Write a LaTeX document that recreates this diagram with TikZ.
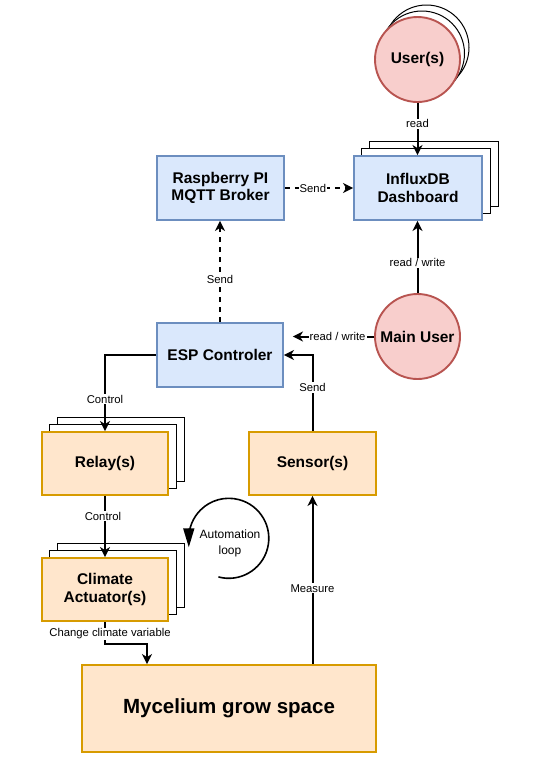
\documentclass[tikz,border=0pt]{standalone}
\usepackage{fontspec}
\setmainfont{Liberation Sans}
\usetikzlibrary{arrows.meta,backgrounds}
\definecolor{bluefill}{HTML}{DAE8FC}
\definecolor{bluedraw}{HTML}{6C8EBF}
\definecolor{orangefill}{HTML}{FFE6CC}
\definecolor{orangedraw}{HTML}{D79B00}
\definecolor{redfill}{HTML}{F8CECC}
\definecolor{reddraw}{HTML}{B85450}
\tikzset{
  box/.style={draw, line width=1.9pt, inner sep=0pt, align=center,
    font=\bfseries\fontsize{15.5}{17.5}\selectfont},
  bluebox/.style={box, fill=bluefill, draw=bluedraw},
  orangebox/.style={box, fill=orangefill, draw=orangedraw},
  usercircle/.style={circle, fill=redfill, draw=reddraw, line width=1.9pt,
    minimum size=85pt, inner sep=0pt, font=\bfseries\fontsize{15.5}{17.5}\selectfont},
  backshape/.style={draw=black, fill=white, line width=1pt},
  conn/.style={line width=2pt, -{Stealth[length=10pt,width=10pt,inset=3pt]}},
  dashconn/.style={conn, dash pattern=on 5pt off 5pt},
  elabel/.style={fill=white, inner sep=1pt, font=\fontsize{11.3}{13}\selectfont},
  looparrow/.style={line width=1.6pt, -{Triangle[length=19pt,width=11pt]}}
}
\begin{document}
\begin{tikzpicture}[x=1pt,y=-1pt]
\useasboundingbox (0,0) rectangle (534,772);

% nodes
\node[usercircle] (user) at (417.5,59.5) {User(s)};
\node[usercircle] (mainuser) at (417.5,336.5) {Main User};
\node[bluebox, minimum width=127pt, minimum height=64pt] (rpi) at (220.5,188) {Raspberry PI\\MQTT Broker};
\node[bluebox, minimum width=128pt, minimum height=64pt] (influx) at (418,188) {InfluxDB\\Dashboard};
\node[bluebox, minimum width=126pt, minimum height=64pt] (esp) at (220,355) {ESP Controler};
\node[orangebox, minimum width=126pt, minimum height=63pt] (relay) at (105,463.5) {Relay(s)};
\node[orangebox, minimum width=127pt, minimum height=63pt] (sensor) at (312.5,463.5) {Sensor(s)};
\node[orangebox, minimum width=126pt, minimum height=63pt] (climate) at (105,589.5) {Climate\\Actuator(s)};
\node[orangebox, minimum width=294pt, minimum height=87pt,
  font=\bfseries\fontsize{20.5}{23}\selectfont] (myc) at (229,708.5) {Mycelium grow space};

% stacked copies behind
\begin{scope}[on background layer]
  \fill[white] (0,0) rectangle (534,772);
  \foreach \n in {influx,relay,climate}{
    \draw[backshape] ([shift={(16,-14)}]\n.south west) rectangle ([shift={(16,-14)}]\n.north east);
    \draw[backshape] ([shift={(8,-7)}]\n.south west) rectangle ([shift={(8,-7)}]\n.north east);
  }
  \draw[backshape] ([shift={(9,-12)}]user.center) circle[radius=42.5pt];
  \draw[backshape] ([shift={(4.5,-6)}]user.center) circle[radius=42.5pt];
\end{scope}

% connectors
\draw[conn] (user.south) -- node[elabel, pos=0.4]{read} (user.south |- influx.north);
\draw[dashconn] (rpi.east) -- node[elabel, pos=0.41]{Send} (influx.west);
\draw[dashconn] (esp.north) -- node[elabel, pos=0.42]{Send} (esp.north |- rpi.south);
\draw[conn] (mainuser.north) -- node[elabel, pos=0.42]{read / write} (mainuser.north |- influx.south);
\coordinate (espin) at ([xshift=9pt]esp.east |- mainuser.west);
\draw[conn] (mainuser.west) -- node[elabel, pos=0.45]{read / write} (espin);
\draw[conn] (sensor.north) |- node[elabel, pos=0.286]{Send} (esp.east);
\draw[conn] (esp.west) -| node[elabel, pos=0.79]{Control} (relay.north);
\draw[conn] (relay.south) -- node[elabel, pos=0.33, xshift=-2pt]{Control} (climate.north);
\coordinate (mycin) at ([xshift=-82pt]myc.north);
\draw[conn] (climate.south) -- node[elabel, pos=0.55, xshift=5pt]{Change climate variable} ++(0,22) -| (mycin);
\coordinate (mycout) at (myc.north -| sensor.south);
\draw[conn] (mycout) -- node[elabel, pos=0.45]{Measure} (sensor.south);

% automation loop
\coordinate (loopc) at (228.8,538.3);
\draw[looparrow] ([shift={(105:40)}]loopc) arc[start angle=105, end angle=-180, radius=40] -- ++(0,9);
\node[align=center, font=\fontsize{12}{16}\selectfont, inner sep=0pt] (looplabel) at (230,543.5) {Automation\\loop};
\end{tikzpicture}
\end{document}
